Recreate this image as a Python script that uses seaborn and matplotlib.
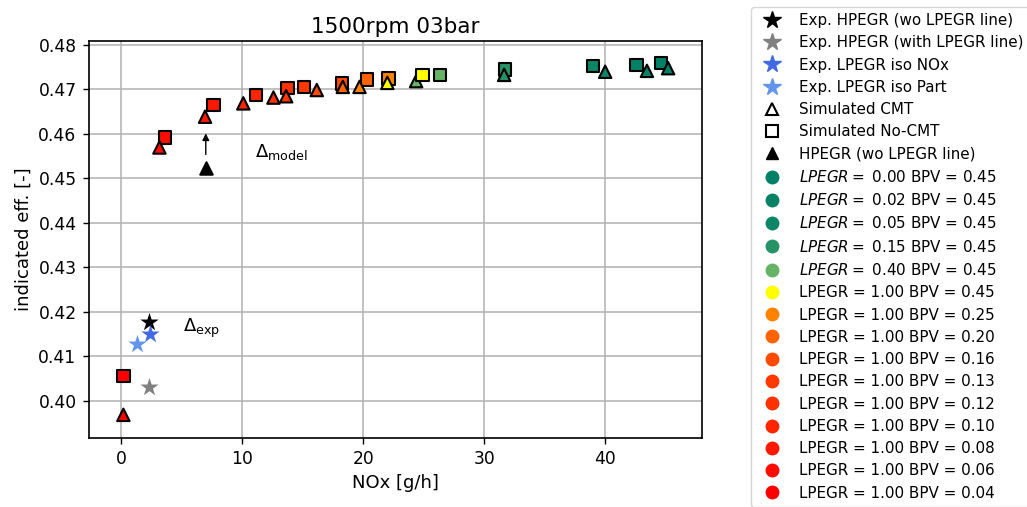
import matplotlib
matplotlib.use("Agg")
import matplotlib.pyplot as plt
from matplotlib.lines import Line2D
import numpy as np
import pandas as pd
import seaborn as sns

# Operating cases: LP-EGR rate and back-pressure-valve position
lpegr = [0.00, 0.02, 0.05, 0.15, 0.40, 1.00, 1.00, 1.00, 1.00, 1.00, 1.00, 1.00, 1.00, 1.00, 1.00]
bpv = [0.45, 0.45, 0.45, 0.45, 0.45, 0.45, 0.25, 0.20, 0.16, 0.13, 0.12, 0.10, 0.08, 0.06, 0.04]

# Simulated results with the combustion model tuned (CMT)
cmt_nox = [45.2, 43.45, 40.0, 31.65, 24.38, 22.0, 19.7, 18.32, 16.17, 13.64, 12.59, 10.1, 6.94, 3.17, 0.19]
cmt_eff = [0.4747, 0.4741, 0.4739, 0.4732, 0.4718, 0.4714, 0.4705, 0.4705, 0.4698, 0.4684,
           0.4681, 0.4668, 0.4638, 0.4569, 0.3969]

# Simulated results without combustion-model tuning
nocmt_nox = [44.6, 42.6, 38.98, 31.74, 26.36, 24.9, 22.1, 20.3, 18.26, 15.12, 13.75, 11.16, 7.63, 3.64, 0.19]
nocmt_eff = [0.4758, 0.4754, 0.4752, 0.4744, 0.4732, 0.4732, 0.4724, 0.4722, 0.4713, 0.4705,
             0.4703, 0.4687, 0.4664, 0.4591, 0.4056]

# Experimental points
exp_labels = ["Exp. HPEGR (wo LPEGR line)", "Exp. HPEGR (with LPEGR line)",
              "Exp. LPEGR iso NOx", "Exp. LPEGR iso Part"]
exp_nox = [2.34, 2.34, 2.4, 1.3]
exp_eff = [0.4178, 0.4031, 0.4150, 0.4129]
exp_colors = ["black", "gray", "royalblue", "cornflowerblue"]

# Simulated HP-EGR point without the LP-EGR line
hp_nox = [7.02]
hp_eff = [0.4524]

sns.set_theme(style="ticks")
plt.rcParams["font.family"] = ["DejaVu Sans"]
plt.rcParams["mathtext.fontset"] = "dejavusans"
plt.rcParams["text.color"] = "black"
plt.rcParams["axes.labelcolor"] = "black"
plt.rcParams["axes.titlecolor"] = "black"


def case_color(lp, bp):
    if lp < 1.0:
        return matplotlib.colormaps["summer"](lp)
    return matplotlib.colormaps["autumn"]((bp - 0.04) / (0.45 - 0.04))


def case_label(lp, bp):
    if lp < 1.0:
        return f"$LPEGR=$ {lp:.2f} BPV = {bp:.2f}"
    return f"LPEGR = {lp:.2f} BPV = {bp:.2f}"


case_ids = [f"{l:.2f}-{b:.2f}" for l, b in zip(lpegr, bpv)]
palette = {cid: case_color(l, b) for cid, l, b in zip(case_ids, lpegr, bpv)}

# Draw green cases first, then the LPEGR = 1 sweep from low to high BPV
order = list(range(5)) + list(range(len(lpegr) - 1, 4, -1))
rows = []
for i in order:
    rows.append(dict(nox=nocmt_nox[i], eff=nocmt_eff[i], case=case_ids[i], model="No-CMT"))
    rows.append(dict(nox=cmt_nox[i], eff=cmt_eff[i], case=case_ids[i], model="CMT"))
sim = pd.DataFrame(rows)

fig = plt.figure(figsize=(10.27, 5.07), dpi=100)
ax = fig.add_axes([89 / 1027, 69 / 507, 613 / 1027, 397 / 507])

sns.scatterplot(data=sim, x="nox", y="eff", hue="case", style="model",
                palette=palette, markers={"No-CMT": "s", "CMT": "^"},
                s=80, edgecolor="black", linewidth=1.5, legend=False, ax=ax, zorder=3)

sns.scatterplot(x=hp_nox, y=hp_eff, marker="^", color="black", s=80,
                edgecolor="black", linewidth=1.5, legend=False, ax=ax, zorder=3)

for nx, ef, col in zip(exp_nox, exp_eff, exp_colors):
    sns.scatterplot(x=[nx], y=[ef], marker="*", color=col, s=190, linewidth=0,
                    legend=False, ax=ax, zorder=4)

ax.annotate("", xy=(7.0, 0.4607), xytext=(7.0, 0.4547),
            arrowprops=dict(arrowstyle="-|>", color="black", lw=1, mutation_scale=10))
ax.text(11.05, 0.4559, r"$\Delta_{\rm model}$", fontsize=13, va="center", ha="left")
ax.text(5.1, 0.4164, r"$\Delta_{\rm exp}$", fontsize=13, va="center", ha="left")

ax.set_xlim(-2.65, 48.0)
ax.set_ylim(0.3917, 0.4808)
ax.set_xticks([0, 10, 20, 30, 40])
ax.set_yticks(np.arange(0.40, 0.481, 0.01))
ax.set_yticklabels([f"{v:.2f}" for v in np.arange(0.40, 0.481, 0.01)])
ax.grid(True, color="#b0b0b0", linewidth=1.1)
ax.set_axisbelow(True)
for sp in ax.spines.values():
    sp.set_color("black")
    sp.set_linewidth(1.2)
ax.tick_params(axis="both", labelsize=12.3, length=4.5, width=1.0, pad=4.5, colors="black")
ax.set_xlabel("NOx [g/h]", fontsize=13)
ax.set_ylabel("indicated eff. [-]", fontsize=13)
ax.set_title("1500rpm 03bar", fontsize=15.5)

handles = []
for lab, col in zip(exp_labels, exp_colors):
    handles.append(Line2D([], [], marker="*", color=col, linestyle="none", markersize=13, label=lab))
handles.append(Line2D([], [], marker="^", markerfacecolor="white", markeredgecolor="black",
                      markeredgewidth=1.5, linestyle="none", markersize=8, label="Simulated CMT"))
handles.append(Line2D([], [], marker="s", markerfacecolor="white", markeredgecolor="black",
                      markeredgewidth=1.5, linestyle="none", markersize=8, label="Simulated No-CMT"))
handles.append(Line2D([], [], marker="^", color="black", linestyle="none", markersize=9,
                      label="HPEGR (wo LPEGR line)"))
for l, b in zip(lpegr, bpv):
    handles.append(Line2D([], [], marker="o", color=case_color(l, b), linestyle="none",
                          markersize=9, label=case_label(l, b)))

leg = fig.legend(handles=handles, loc="upper left", bbox_to_anchor=(751 / 1027, 1 - 7 / 507),
                 bbox_transform=fig.transFigure, borderaxespad=0, fontsize=10.9,
                 labelspacing=0.48, frameon=True, edgecolor="#cccccc", fancybox=True)
for t in leg.get_texts():
    t.set_color("black")

fig.savefig("out.png", dpi=100)
